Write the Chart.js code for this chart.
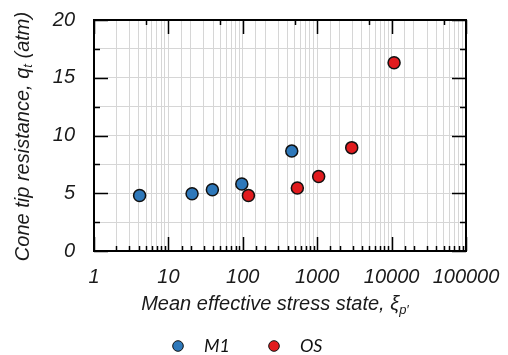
<!DOCTYPE html>
<html>
<head>
<meta charset="utf-8">
<script src="https://cdn.jsdelivr.net/npm/chart.js@4.4.1/dist/chart.umd.min.js"></script>
<style>
html,body{margin:0;padding:0;background:#fff;}
#wrap{width:508px;height:355px;}
</style>
</head>
<body>
<div id="wrap"><canvas id="c" width="508" height="355"></canvas></div>
<script>
// Data
const seriesNames = ['M1', 'OS'];
const m1X = [4.1, 20.8, 39, 97, 455];
const m1Y = [4.8, 4.95, 5.3, 5.8, 8.65];
const osX = [119, 541, 1047, 2910, 10800];
const osY = [4.8, 5.45, 6.45, 8.95, 16.3];
const xTickLabels = ['1', '10', '100', '1000', '10000', '100000'];
const yTickLabels = ['0', '5', '10', '15', '20'];
const colors = ['#2E78BA', '#E11B1E'];

const toPts = (xs, ys) => xs.map((x, i) => ({x: x, y: ys[i]}));

const isDecade = v => { const l = Math.log10(v); return Math.abs(l - Math.round(l)) < 1e-9; };

const framePlugin = {
  id: 'frame',
  beforeDatasetsDraw(chart) {
    const {ctx, chartArea: a, scales: {x, y}} = chart;
    ctx.save();
    ctx.strokeStyle = '#000';
    ctx.lineWidth = 1.5;
    ctx.beginPath();
    x.ticks.forEach(t => {
      const px = Math.round(x.getPixelForValue(t.value)) + 0.5;
      const lead = Math.round(t.value / Math.pow(10, Math.floor(Math.log10(t.value) + 1e-9)));
      const dec = isDecade(t.value);
      const lb = dec ? 14 : 5;
      ctx.moveTo(px, a.bottom); ctx.lineTo(px, a.bottom - lb);
      if (dec) { ctx.moveTo(px, a.top); ctx.lineTo(px, a.top + 14); }
      else if (lead === 5) { ctx.moveTo(px, a.top); ctx.lineTo(px, a.top + 5); }
    });
    y.ticks.forEach(t => {
      const py = Math.round(y.getPixelForValue(t.value)) + 0.5;
      const len = (t.value % 5 === 0) ? 14 : 6;
      ctx.moveTo(a.left, py); ctx.lineTo(a.left + len, py);
      ctx.moveTo(a.right, py); ctx.lineTo(a.right - len, py);
    });
    ctx.stroke();
    ctx.lineWidth = 2;
    ctx.strokeRect(a.left, a.top, a.right - a.left, a.bottom - a.top);
    ctx.restore();
  }
};

function drawSegs(ctx, segs, cx, cy) {
  let total = 0;
  segs.forEach(s => { ctx.font = s[1]; total += ctx.measureText(s[0]).width; });
  let xx = cx - total / 2;
  segs.forEach(s => {
    ctx.font = s[1];
    ctx.fillText(s[0], xx, cy + s[2]);
    xx += ctx.measureText(s[0]).width;
  });
}

const titlePlugin = {
  id: 'titles',
  afterDraw(chart) {
    const {ctx, chartArea: a} = chart;
    const big = 'italic 20px "Liberation Sans", Arial, sans-serif';
    const small = 'italic 13px "Liberation Sans", Arial, sans-serif';
    ctx.save();
    ctx.fillStyle = '#1a1a1a';
    ctx.textBaseline = 'middle';
    ctx.textAlign = 'left';
    drawSegs(ctx, [['Mean effective stress state, \u03BE', big, 0], ['p\u2032', small, 6]], 275, 304);
    ctx.translate(23, (a.top + a.bottom) / 2 + 1);
    ctx.rotate(-Math.PI / 2);
    drawSegs(ctx, [['Cone tip resistance, q', big, 0], ['t', small, 5], [' (atm)', big, 0]], 0, 0);
    ctx.restore();

    // legend
    ctx.save();
    const lf = 'italic 18px Lato, "Open Sans", sans-serif';
    const items = chart.data.datasets;
    const pos = [[178, 346, 204], [274, 346, 300]];
    items.forEach((ds, i) => {
      ctx.beginPath();
      ctx.arc(pos[i][0], pos[i][1], 5.3, 0, Math.PI * 2);
      ctx.fillStyle = ds.backgroundColor;
      ctx.fill();
      ctx.lineWidth = 1;
      ctx.strokeStyle = '#111';
      ctx.stroke();
      ctx.fillStyle = '#111';
      ctx.font = lf;
      ctx.textBaseline = 'middle';
      ctx.fillText(ds.label, pos[i][2], pos[i][1]);
    });
    ctx.restore();
  }
};

new Chart(document.getElementById('c'), {
  type: 'scatter',
  data: {
    datasets: [
      {label: seriesNames[0], data: toPts(m1X, m1Y), backgroundColor: colors[0], borderColor: '#111', borderWidth: 1.5, pointRadius: 6, pointHoverRadius: 6},
      {label: seriesNames[1], data: toPts(osX, osY), backgroundColor: colors[1], borderColor: '#111', borderWidth: 1.5, pointRadius: 6, pointHoverRadius: 6}
    ]
  },
  options: {
    responsive: false,
    animation: false,
    events: [],
    layout: {padding: {top: 20, right: 42, left: 0, bottom: 0}},
    plugins: {legend: {display: false}, tooltip: {enabled: false}},
    scales: {
      x: {
        type: 'logarithmic',
        min: 1, max: 100000,
        afterFit: s => { s.height = 104; s.paddingLeft = 0; s.paddingRight = 0; },
        border: {display: false},
        grid: {color: '#d6d6d6', lineWidth: 1, drawTicks: false},
        ticks: {
          autoSkip: false, maxRotation: 0, minRotation: 0, padding: 14,
          color: '#1a1a1a', font: {family: '"Liberation Sans", Arial, sans-serif', size: 20, style: 'italic'},
          callback: v => { if (!isDecade(v)) return ''; const s = String(Math.round(v)); return xTickLabels.includes(s) ? s : ''; }
        }
      },
      y: {
        type: 'linear',
        min: 0, max: 20,
        afterFit: s => { s.width = 94; s.paddingTop = 0; s.paddingBottom = 0; },
        border: {display: false},
        grid: {color: '#d6d6d6', lineWidth: 1, drawTicks: false},
        ticks: {
          stepSize: 2.5, padding: 19,
          color: '#1a1a1a', font: {family: '"Liberation Sans", Arial, sans-serif', size: 20, style: 'italic'},
          callback: v => { const s = String(v); return yTickLabels.includes(s) ? s : ''; }
        }
      }
    }
  },
  plugins: [framePlugin, titlePlugin]
});
</script>
</body>
</html>
